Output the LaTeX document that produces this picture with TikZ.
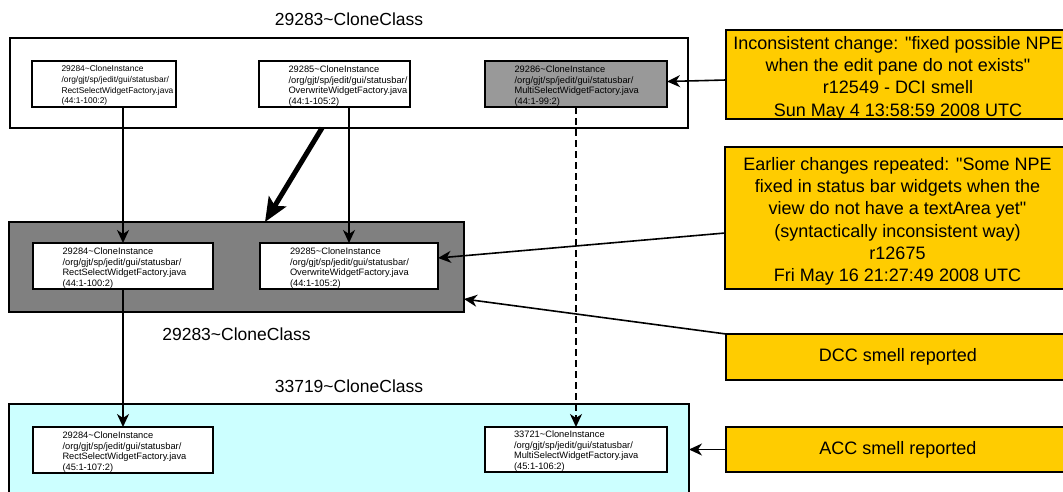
\documentclass[tikz,border=0pt]{standalone}
\usepackage{fontspec}
\setmainfont{Liberation Sans}[Ligatures=TeXOff]
\usetikzlibrary{arrows.meta,calc}
\definecolor{notefill}{HTML}{FFCC00}
\definecolor{classgray}{HTML}{808080}
\definecolor{instgray}{HTML}{999999}
\definecolor{classcyan}{HTML}{CCFFFF}
\newcommand\tld{\textasciitilde}

\begin{document}
\begin{tikzpicture}[x=1pt,y=-1pt,
  every node/.style={inner sep=0pt, outer sep=0pt},
  cls/.style={draw, line width=1.5pt, anchor=north west, rectangle},
  inst/.style={draw, fill=white, line width=1.4pt, anchor=north west, minimum height=46pt},
  insttext/.style={anchor=north west, align=left, font=\fontsize{9.3}{10.8}\selectfont},
  note/.style={draw, fill=notefill, line width=1.4pt, anchor=north west, minimum width=344pt},
  notetext/.style={anchor=north, align=center, font=\fontsize{18}{22.2}\selectfont},
  title/.style={anchor=base, font=\fontsize{17.5}{21}\selectfont},
  link/.style={line width=1.6pt, -{Stealth[length=13pt,width=12pt,inset=4pt]}},
  bigarrow/.style={line width=5pt, -{Stealth[length=24pt,width=20pt,inset=5pt]}},
]
\clip (0,0) rectangle (1063,491);

% clone classes
\node[cls, minimum width=678pt, minimum height=90pt] (ctop) at (10,38) {};
\node[cls, fill=classgray, minimum width=455pt, minimum height=90pt] (cmid) at (9,222) {};
\node[cls, fill=classcyan, minimum width=680pt, minimum height=120pt] (cbot) at (9,404) {};

\node[title] (ttop) at ([yshift=13pt]ctop.north) {29283\tld CloneClass};
\node[title] (tmid) at ([yshift=-28pt]cmid.south) {29283\tld CloneClass};
\node[title] (tbot) at ([yshift=12pt]cbot.north) {33719\tld CloneClass};

% clone instances
\node[inst, minimum width=144pt] (t1) at (32,61) {};
\node[inst, minimum width=151pt] (t2) at (259,61) {};
\node[inst, fill=instgray, minimum width=182pt] (t3) at (485,61) {};
\node[inst, minimum width=180pt] (m1) at (33,243) {};
\node[inst, minimum width=178pt] (m2) at (260,243) {};
\node[inst, minimum width=180pt] (b1) at (33,427) {};
\node[inst, minimum width=182pt, minimum height=45pt] (b2) at (485,427) {};

\node[insttext, font=\fontsize{8.4}{10.8}\selectfont] (t1x) at ([shift={(29.5pt,-4.5pt)}]t1.north west)
  {29284\tld CloneInstance\\/org/gjt/sp/jedit/gui/statusbar/\\RectSelectWidgetFactory.java\\(44:1-100:2)};
\node[insttext] (t2x) at ([shift={(29.5pt,-4.5pt)}]t2.north west)
  {29285\tld CloneInstance\\/org/gjt/sp/jedit/gui/statusbar/\\OverwriteWidgetFactory.java\\(44:1-105:2)};
\node[insttext] (t3x) at ([shift={(29.5pt,-4.5pt)}]t3.north west)
  {29286\tld CloneInstance\\/org/gjt/sp/jedit/gui/statusbar/\\MultiSelectWidgetFactory.java\\(44:1-99:2)};
\node[insttext] (m1x) at ([shift={(29.5pt,-4.5pt)}]m1.north west)
  {29284\tld CloneInstance\\/org/gjt/sp/jedit/gui/statusbar/\\RectSelectWidgetFactory.java\\(44:1-100:2)};
\node[insttext] (m2x) at ([shift={(30pt,-4.5pt)}]m2.north west)
  {29285\tld CloneInstance\\/org/gjt/sp/jedit/gui/statusbar/\\OverwriteWidgetFactory.java\\(44:1-105:2)};
\node[insttext] (b1x) at ([shift={(29.5pt,-4.5pt)}]b1.north west)
  {29284\tld CloneInstance\\/org/gjt/sp/jedit/gui/statusbar/\\RectSelectWidgetFactory.java\\(45:1-107:2)};
\node[insttext] (b2x) at ([shift={(29pt,-3.5pt)}]b2.north west)
  {33721\tld CloneInstance\\/org/gjt/sp/jedit/gui/statusbar/\\MultiSelectWidgetFactory.java\\(45:1-106:2)};

% annotations
\node[note, minimum height=89pt] (n1) at (726,30) {};
\node[notetext] (n1x) at ([yshift=-6.5pt]n1.north)
  {Inconsistent change: "fixed possible NPE\\when the edit pane do not exists"\\r12549 - DCI smell\\Sun May 4 13:58:59 2008 UTC};
\node[note, minimum width=345pt, minimum height=142pt] (n2) at (725,147) {};
\node[notetext] (n2x) at ([yshift=-10.5pt]n2.north)
  {Earlier changes repeated: "Some NPE\\fixed in status bar widgets when the\\view do not have a textArea yet"\\(syntactically inconsistent way)\\r12675\\Fri May 16 21:27:49 2008 UTC};
\node[note, minimum height=46pt, font=\fontsize{18}{22}\selectfont] (n3) at (726,334) {DCC smell reported};
\node[note, minimum height=45pt, font=\fontsize{18}{22}\selectfont] (n4) at (726,427) {ACC smell reported};

% evolution links
\draw[link] (t1.south -| m1.north) -- (m1.north);
\draw[link] (t2.south -| m2.north) -- (m2.north);
\draw[link] (m1.south) -- (b1.north);
\draw[link, dash pattern=on 7pt off 4pt] (t3.south) -- (b2.north);
\draw[bigarrow] ([xshift=-27pt]ctop.south) -- ([xshift=28.5pt]cmid.north);

% annotation pointers
\draw[link] ([yshift=-5.5pt]n1.west) -- ([yshift=2.5pt]t3.east);
\draw[link] ([yshift=-15pt]n2.west) -- ([yshift=8pt]m2.east);
\draw[link] (n3.north west) -- ([yshift=-32pt]cmid.east);
\draw[link] (n4.west) -- (n4.west -| cbot.east);
\end{tikzpicture}
\end{document}
